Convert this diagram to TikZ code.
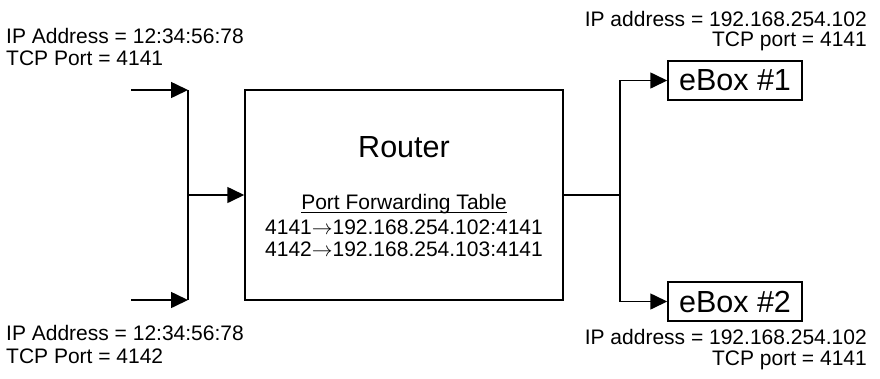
\documentclass[tikz,border=0pt]{standalone}
\usepackage{fontspec}
\setmainfont{Liberation Sans}
\usetikzlibrary{arrows.meta}
\begin{document}
\begin{tikzpicture}[x=1pt,y=-1pt,
  conn/.style={line width=1.6pt},
  arr/.style={conn,-{Triangle[length=17pt,width=16pt]}},
  boxstyle/.style={draw,line width=1.5pt,inner sep=0pt},
  lbl/.style={inner sep=0pt,font=\fontsize{21}{23}\selectfont},
  big/.style={inner sep=0pt,font=\fontsize{30.5}{34}\selectfont}]
\useasboundingbox (0,0) rectangle (880,378);
% router
\node[boxstyle,minimum width=318pt,minimum height=210pt] (router) at (404,195) {};
\node[big,anchor=base] (rtitle) at (404,157) {Router};
\node[lbl,anchor=base] (tbl) at (404,209.3) {Port Forwarding Table};
\draw[line width=1.1pt] ([yshift=-2.8pt]tbl.base west) -- ([yshift=-2.8pt]tbl.base east);
\node[lbl,anchor=base] (row1) at (404,234) {4141$\rightarrow$192.168.254.102:4141};
\node[lbl,anchor=base] (row2) at (404,256.7) {4142$\rightarrow$192.168.254.103:4141};
% eboxes
\node[boxstyle,big,minimum width=134pt,minimum height=39pt] (ebox1) at (735,80.5) {eBox \#1};
\node[boxstyle,big,minimum width=134pt,minimum height=39pt] (ebox2) at (735,301.5) {eBox \#2};
% left inputs
\coordinate (in1) at (131,90);
\coordinate (in2) at (131,300);
\coordinate (j1) at (188,90);
\coordinate (j2) at (188,300);
\coordinate (jm) at (188,195);
\draw[arr] (in1) -- (j1);
\draw[arr] (in2) -- (j2);
\draw[conn] (j1) -- (j2);
\draw[arr] (jm) -- (router.west);
% right outputs
\coordinate (split) at (620,195);
\draw[conn] (router.east) -- (split);
\draw[arr] (split) |- (ebox1.west);
\draw[arr] (split) |- (ebox2.west);
% labels
\node[lbl,anchor=base west] (tl1) at (6,43.3) {IP Address = 12:34:56:78};
\node[lbl,anchor=base west] (tl2) at (6,65.7) {TCP Port = 4141};
\node[lbl,anchor=base west] (bl1) at (6,340.7) {IP Address = 12:34:56:78};
\node[lbl,anchor=base west] (bl2) at (6,363) {TCP Port = 4142};
\node[lbl,anchor=base east] (tr1) at (867,26) {IP address = 192.168.254.102};
\node[lbl,anchor=base east] (tr2) at (867,46.7) {TCP port = 4141};
\node[lbl,anchor=base east] (br1) at (867,344) {IP address = 192.168.254.102};
\node[lbl,anchor=base east] (br2) at (867,365.7) {TCP port = 4141};
\end{tikzpicture}
\end{document}
